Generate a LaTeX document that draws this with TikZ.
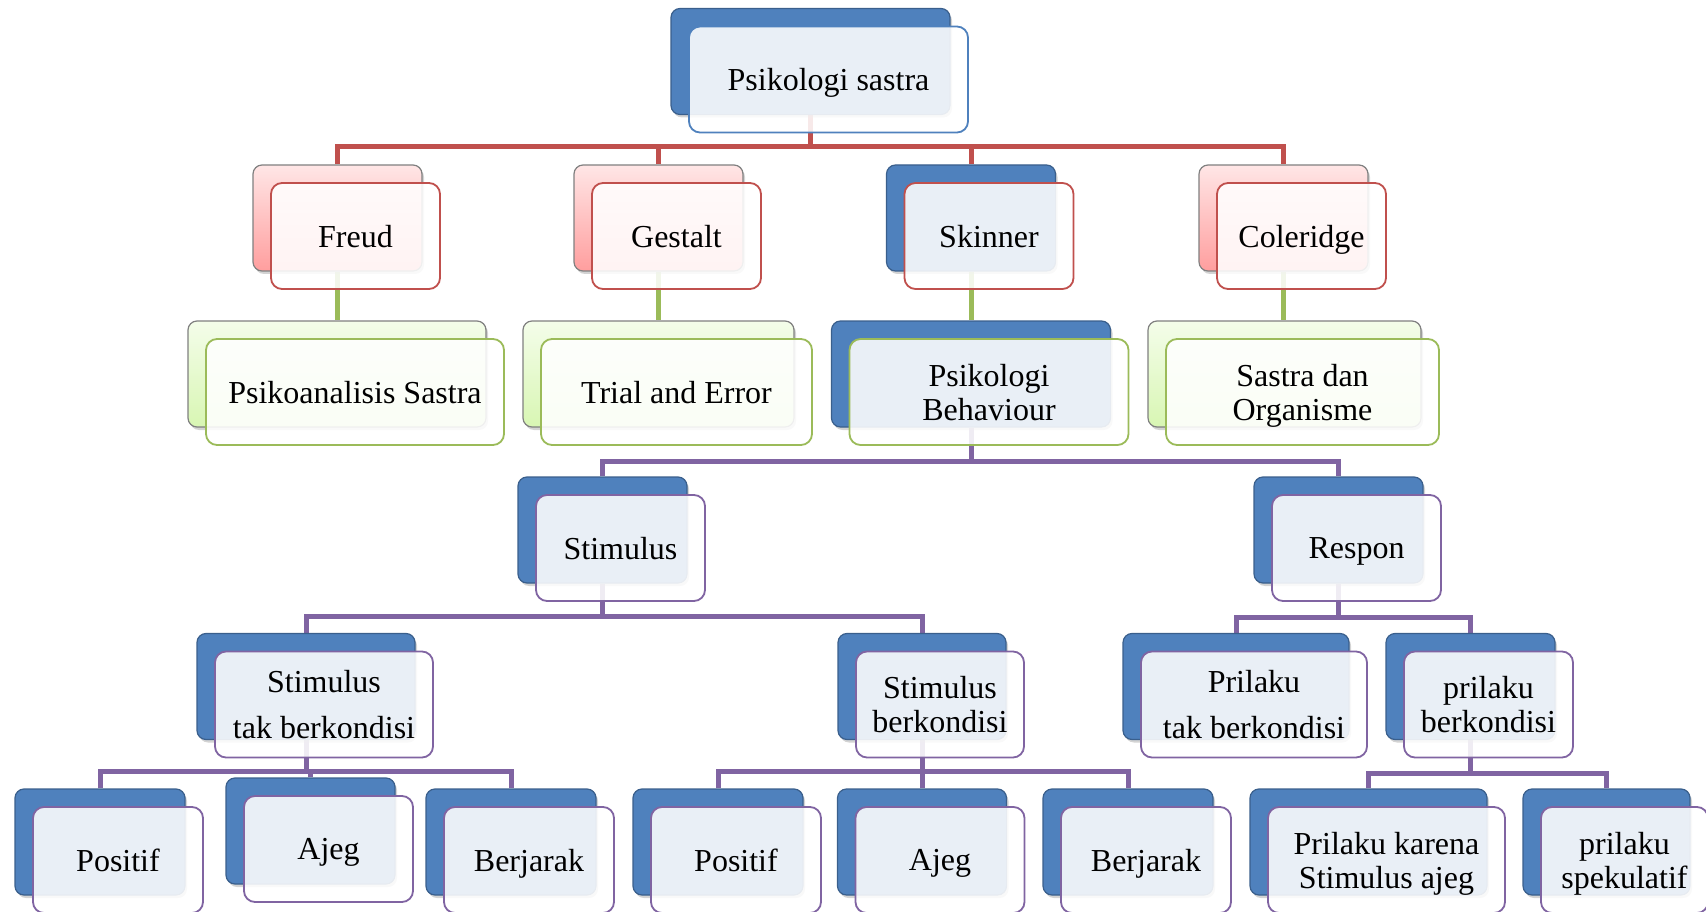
\documentclass[tikz,border=0pt]{standalone}
\usepackage{fontspec}
\setmainfont{Liberation Serif}
\usetikzlibrary{shadows,backgrounds}
\definecolor{obl}{HTML}{4F81BD}
\definecolor{oblD}{HTML}{3A5F8C}
\definecolor{ored}{HTML}{C0504D}
\definecolor{ogrn}{HTML}{9BBB59}
\definecolor{opur}{HTML}{8064A2}
\definecolor{pinkT}{HTML}{FFE6E6}
\definecolor{pinkB}{HTML}{FF9E9E}
\definecolor{grnT}{HTML}{F4FDEA}
\definecolor{grnB}{HTML}{D8F6B3}
\definecolor{bordG}{HTML}{808080}
\tikzset{
  box/.style={rounded corners=9pt, minimum height=106pt, inner sep=0pt, align=center},
  shad/.style={drop shadow={opacity=0.35, shadow xshift=2pt, shadow yshift=-3pt}},
  backblue/.style={box, shad, fill=obl, draw=oblD, line width=1.2pt},
  backpink/.style={box, shad, top color=pinkT, bottom color=pinkB, draw=bordG, line width=1.2pt},
  backgreen/.style={box, shad, top color=grnT, bottom color=grnB, draw=bordG, line width=1.2pt},
  front/.style={box, rounded corners=11pt, fill=white, fill opacity=0.88, text opacity=1,
    line width=1.8pt, text=black, font=\fontsize{32}{34}\selectfont},
  fblue/.style={front, draw=obl},
  fred/.style={front, draw=ored},
  fgreen/.style={front, draw=ogrn},
  fpurple/.style={front, draw=opur},
  conn/.style={line width=5pt},
}
% text line without depth
\newcommand\nd[1]{\raisebox{0pt}[\height][0pt]{#1}}
% name, x, y, width, back style, front style, text, extra front options
\newcommand\duo[8]{%
  \node[#5, minimum width=#4pt] (#1) at (#2,#3) {};
  \node[#6, minimum width=#4pt, #8] (#1f) at ([shift={(18,18)}]#1.center) {#7};
}
\begin{document}
\begin{tikzpicture}[x=1pt,y=-1pt]
\useasboundingbox (0,0) rectangle (1706,912);
% top
\duo{top}{810.5}{61.5}{279}{backblue}{fblue}{\nd{Psikologi sastra}}{}
% level 1
\duo{freud}{337.5}{218}{169}{backpink}{fred}{\nd{Freud}}{}
\duo{gestalt}{658.5}{218}{169}{backpink}{fred}{\nd{Gestalt}}{}
\duo{skinner}{971}{218}{169}{backblue}{fred}{\nd{Skinner}}{}
\duo{coleridge}{1283.5}{218}{169}{backpink}{fred}{\nd{Coleridge}}{}
% level 2
\duo{psiko}{337}{374}{298}{backgreen}{fgreen}{\nd{Psikoanalisis Sastra}}{}
\duo{trial}{658.5}{374}{271}{backgreen}{fgreen}{\nd{Trial and Error}}{}
\duo{behav}{971}{374}{279}{backblue}{fgreen}{Psikologi\\\nd{Behaviour}}{}
\duo{sastra}{1284.5}{374}{273}{backgreen}{fgreen}{Sastra dan\\\nd{Organisme}}{}
% level 3
\duo{stim}{602.5}{530}{169}{backblue}{fpurple}{\nd{Stimulus}}{}
\duo{resp}{1338.5}{530}{169}{backblue}{fpurple}{\nd{Respon}}{}
% level 4
\duo{stak}{306}{686.5}{218}{backblue}{fpurple}{Stimulus\\\nd{tak berkondisi}}{font=\fontsize{32}{46}\selectfont}
\duo{sberk}{922}{686.5}{168}{backblue}{fpurple}{Stimulus\\\nd{berkondisi}}{}
\duo{ptak}{1236}{686.5}{226}{backblue}{fpurple}{Prilaku\\\nd{tak berkondisi}}{font=\fontsize{32}{46}\selectfont}
\duo{pberk}{1470.5}{686.5}{169}{backblue}{fpurple}{prilaku\\\nd{berkondisi}}{}
% level 5
\duo{posA}{100}{842}{170}{backblue}{fpurple}{\nd{Positif}}{}
\duo{ajegA}{310.5}{831}{169}{backblue}{fpurple}{\nd{Ajeg}}{}
\duo{berA}{511}{842}{170}{backblue}{fpurple}{\nd{Berjarak}}{}
\duo{posB}{718}{842}{170}{backblue}{fpurple}{\nd{Positif}}{}
\duo{ajegB}{922}{842}{169}{backblue}{fpurple}{\nd{Ajeg}}{}
\duo{berB}{1128}{842}{170}{backblue}{fpurple}{\nd{Berjarak}}{}
\duo{karena}{1368.5}{842}{237}{backblue}{fpurple}{Prilaku karena\\\nd{Stimulus ajeg}}{}
\duo{spek}{1606.5}{842}{167}{backblue}{fpurple}{prilaku\\\nd{spekulatif}}{}
% connectors
\begin{scope}[on background layer]
  \coordinate (r1) at (0,147);
  \draw[conn,ored] (freud.north) |- (r1 -| coleridge.north) -- (coleridge.north);
  \draw[conn,ored] (top.south) -- (top.south |- r1);
  \draw[conn,ored] (gestalt.north) -- (gestalt.north |- r1);
  \draw[conn,ored] (skinner.north) -- (skinner.north |- r1);
  \draw[conn,ogrn] (freud.south) -- (freud.south |- psiko.north);
  \draw[conn,ogrn] (gestalt.south) -- (gestalt.south |- trial.north);
  \draw[conn,ogrn] (skinner.south) -- (skinner.south |- behav.north);
  \draw[conn,ogrn] (coleridge.south) -- (coleridge.south |- sastra.north);
  \coordinate (p1) at (0,461);
  \draw[conn,opur] (stim.north) |- (p1 -| resp.north) -- (resp.north);
  \draw[conn,opur] (behav.south) -- (behav.south |- p1);
  \coordinate (p2) at (0,616);
  \draw[conn,opur] (stak.north) |- (p2 -| sberk.north) -- (sberk.north);
  \draw[conn,opur] (stim.south) -- (stim.south |- p2);
  \coordinate (p3) at (0,617);
  \draw[conn,opur] (ptak.north) |- (p3 -| pberk.north) -- (pberk.north);
  \draw[conn,opur] (resp.south) -- (resp.south |- p3);
  \coordinate (p4) at (0,771);
  \draw[conn,opur] (posA.north) |- (p4 -| berA.north) -- (berA.north);
  \draw[conn,opur] (stak.south) -- (stak.south |- p4);
  \draw[conn,opur] (ajegA.north) -- (ajegA.north |- p4);
  \draw[conn,opur] (posB.north) |- (p4 -| berB.north) -- (berB.north);
  \draw[conn,opur] (sberk.south) -- (sberk.south |- p4);
  \draw[conn,opur] (ajegB.north) -- (ajegB.north |- p4);
  \coordinate (p6) at (0,773);
  \draw[conn,opur] (karena.north) |- (p6 -| spek.north) -- (spek.north);
  \draw[conn,opur] (pberk.south) -- (pberk.south |- p6);
\end{scope}
\end{tikzpicture}
\end{document}
